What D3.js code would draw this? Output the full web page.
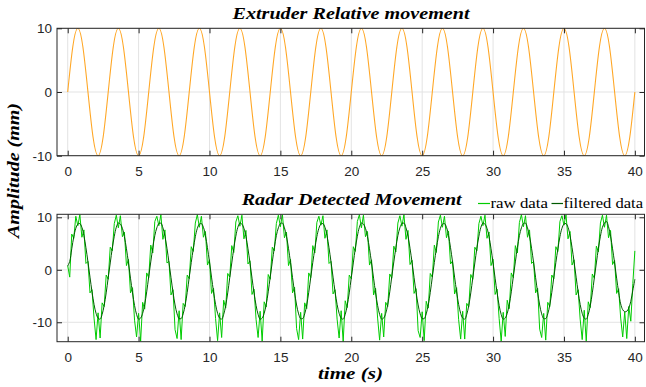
<!DOCTYPE html>
<html><head><meta charset="utf-8">
<script src="https://cdn.jsdelivr.net/npm/d3@7"></script>
<style>body{margin:0;background:#fff}svg{display:block}</style>
</head><body>
<svg id="c" width="646" height="387"></svg>
<script>
// ---------------- data ----------------
const xTicks = [0, 5, 10, 15, 20, 25, 30, 35, 40];
const yTicksTop = [-10, 0, 10];
const yTicksBottom = [-10, 0, 10];
const xLimits = [-0.755, 40.68];
const yLimitsTop = [-10, 10];
const yLimitsBottom = [-13.7, 10.57];

const topTitle = "Extruder Relative movement";
const bottomTitle = "Radar Detected Movement";
const yLabel = "Amplitude (mm)";
const xLabel = "time (s)";
const legendLabels = ["raw data", "filtered data"];

// extruder: sampled every 5/14 s
const extruderStep = 5 / 14;
const extruderValues = [
 0,7.07,10,7.07,0,-7.07,-10,-7.07, 0,7.07,10,7.07,0,-7.07,-10,-7.07,
 0,7.07,10,7.07,0,-7.07,-10,-7.07, 0,7.07,10,7.07,0,-7.07,-10,-7.07,
 0,7.07,10,7.07,0,-7.07,-10,-7.07, 0,7.07,10,7.07,0,-7.07,-10,-7.07,
 0,7.07,10,7.07,0,-7.07,-10,-7.07, 0,7.07,10,7.07,0,-7.07,-10,-7.07,
 0,7.07,10,7.07,0,-7.07,-10,-7.07, 0,7.07,10,7.07,0,-7.07,-10,-7.07,
 0,7.07,10,7.07,0,-7.07,-10,-7.07, 0,7.07,10,7.07,0,-7.07,-10,-7.07,
 0,7.07,10,7.07,0,-7.07,-10,-7.07, 0,7.07,10,7.07,0,-7.07,-10,-7.07,
 0
];

// radar: sampled every 1/7 s
const radarStep = 1 / 7;
const rawValues = [
 0.8,-1.4,6.8,6.0,10.2,8.4,10.5,6.2,7.6,1.2,1.6,-4.4,-3.8,-9.2,-13.3,-8.2,-13.0,-6.3,-7.0,-1.0,
 -1.8,4.3,3.6,8.8,10.4,8.0,10.3,6.3,7.2,0.8,2.0,-4.4,-3.4,-9.6,-12.8,-8.3,-13.6,-6.2,-7.5,-0.6,
 -1.5,4.7,3.2,9.2,10.2,8.4,10.5,5.8,7.6,1.3,1.6,-4.8,-3.8,-11.4,-13.1,-7.8,-13.3,-6.4,-7.0,-1.0,
 -1.7,4.4,3.5,8.9,10.5,8.1,10.2,6.2,7.3,0.9,1.9,-4.5,-3.5,-9.3,-13.5,-8.2,-12.9,-5.8,-7.3,-0.7,
 -1.4,4.6,3.3,9.1,10.3,8.3,10.4,5.9,7.5,1.1,1.7,-4.7,-3.7,-9.5,-12.9,-7.9,-13.6,-6.1,-7.1,-0.9,
 -1.8,4.3,3.6,8.8,10.4,8.2,10.5,6.1,7.2,0.8,2.0,-4.4,-3.3,-11.2,-13.3,-8.1,-13.2,-6.3,-7.4,-0.6,
 -1.5,4.6,3.2,9.0,10.2,8.5,10.3,6.0,7.6,1.2,1.6,-4.6,-3.8,-9.4,-13.0,-7.8,-13.7,-5.9,-7.2,-1.0,
 -1.7,4.4,3.5,9.2,10.5,8.0,10.4,6.3,7.3,0.9,1.9,-4.8,-3.5,-9.2,-13.4,-8.3,-12.8,-6.2,-7.0,-0.8,
 -1.6,4.5,3.4,8.9,10.3,8.3,10.5,5.8,7.5,1.0,1.8,-4.5,-3.6,-11.6,-12.9,-8.0,-13.5,-6.0,-7.3,-0.7,
 -1.4,4.7,3.3,9.1,10.4,8.1,10.2,6.1,7.4,1.1,1.7,-4.6,-3.4,-9.5,-13.2,-7.9,-13.2,-6.4,-7.1,-0.9,
 -1.8,4.3,3.6,8.8,10.2,8.4,10.4,6.0,7.2,0.8,2.0,-4.7,-3.7,-9.3,-13.6,-8.1,-12.7,-5.8,-7.4,-0.6,
 -1.5,4.6,3.2,9.0,10.5,8.2,10.3,6.2,7.6,1.2,1.6,-4.4,-3.5,-11.3,-12.9,-8.3,-13.4,-6.2,-7.0,-1.0,
 -1.7,4.4,3.5,9.2,10.3,8.5,10.5,5.9,7.3,0.9,1.9,-4.8,-3.8,-9.4,-13.3,-7.7,-13.6,-6.1,-7.2,-0.8,
 -1.6,4.5,3.4,8.9,10.4,8.1,10.4,6.1,7.5,1.0,1.8,-4.5,-3.6,-9.2,-12.8,-8.0,-13.1,-7.0,-9.8,-2.6,
 3.6
];
const filteredValues = [
 0.7,1.6,4.0,6.3,7.9,8.7,8.8,8.1,6.5,4.2,1.5,-1.4,-4.2,-6.6,-8.3,-9.2,-9.4,-8.5,-6.8,-4.4,
 -1.5,1.3,4.1,6.4,8.1,8.9,8.7,7.9,6.3,4.0,1.3,-1.6,-4.4,-6.8,-8.5,-9.4,-9.2,-8.3,-6.6,-4.2,
 -1.3,1.5,4.2,6.5,8.0,8.8,8.9,8.0,6.4,4.1,1.4,-1.5,-4.3,-6.7,-8.4,-9.3,-9.3,-8.4,-6.7,-4.3,
 -1.4,1.4,4.0,6.3,7.9,8.7,8.8,8.1,6.5,4.2,1.5,-1.4,-4.2,-6.6,-8.3,-9.2,-9.4,-8.5,-6.8,-4.4,
 -1.5,1.3,4.1,6.4,8.1,8.9,8.7,7.9,6.3,4.0,1.3,-1.6,-4.4,-6.8,-8.5,-9.4,-9.2,-8.3,-6.6,-4.2,
 -1.3,1.5,4.2,6.5,8.0,8.8,8.9,8.0,6.4,4.1,1.4,-1.5,-4.3,-6.7,-8.4,-9.3,-9.3,-8.4,-6.7,-4.3,
 -1.4,1.4,4.0,6.3,7.9,8.7,8.8,8.1,6.5,4.2,1.5,-1.4,-4.2,-6.6,-8.3,-9.2,-9.4,-8.5,-6.8,-4.4,
 -1.5,1.3,4.1,6.4,8.1,8.9,8.7,7.9,6.3,4.0,1.3,-1.6,-4.4,-6.8,-8.5,-9.4,-9.2,-8.3,-6.6,-4.2,
 -1.3,1.5,4.2,6.5,8.0,8.8,8.9,8.0,6.4,4.1,1.4,-1.5,-4.3,-6.7,-8.4,-9.3,-9.3,-8.4,-6.7,-4.3,
 -1.4,1.4,4.0,6.3,7.9,8.7,8.8,8.1,6.5,4.2,1.5,-1.4,-4.2,-6.6,-8.3,-9.2,-9.4,-8.5,-6.8,-4.4,
 -1.5,1.3,4.1,6.4,8.1,8.9,8.7,7.9,6.3,4.0,1.3,-1.6,-4.4,-6.8,-8.5,-9.4,-9.2,-8.3,-6.6,-4.2,
 -1.3,1.5,4.2,6.5,8.0,8.8,8.9,8.0,6.4,4.1,1.4,-1.5,-4.3,-6.7,-8.4,-9.3,-9.3,-8.4,-6.7,-4.3,
 -1.4,1.4,4.0,6.3,7.9,8.7,8.8,8.1,6.5,4.2,1.5,-1.4,-4.2,-6.6,-8.3,-9.2,-9.4,-8.5,-6.8,-4.4,
 -1.5,1.3,4.1,6.4,8.1,8.9,9.2,8.2,6.4,4.0,1.3,-1.6,-4.3,-6.5,-7.6,-8.0,-7.9,-7.3,-6.0,-3.9,
 -1.8
];

// ---------------- drawing ----------------
const svg = d3.select("#c");
svg.append("rect").attr("width", 646).attr("height", 387).attr("fill", "#fff");

const L = 57, R = 644.5;
const axisColor = "#262626";
const gridColor = "#e3e3e3";
const tickFont = "Liberation Sans, Arial, sans-serif";
const serif = "Liberation Serif, 'DejaVu Serif', serif";

function panel(top, bottom, yDomain, yTicks, id) {
  const x = d3.scaleLinear().domain(xLimits).range([L, R]);
  const y = d3.scaleLinear().domain(yDomain).range([bottom, top]);
  const g = svg.append("g");
  g.append("g").selectAll("line").data(xTicks).join("line")
    .attr("x1", d => x(d)).attr("x2", d => x(d)).attr("y1", top).attr("y2", bottom)
    .attr("stroke", gridColor).attr("stroke-width", 1);
  g.append("g").selectAll("line").data(yTicks).join("line")
    .attr("y1", d => y(d)).attr("y2", d => y(d)).attr("x1", L).attr("x2", R)
    .attr("stroke", gridColor).attr("stroke-width", 1);
  svg.append("defs").append("clipPath").attr("id", id)
    .append("rect").attr("x", L).attr("y", top).attr("width", R - L).attr("height", bottom - top);
  const plot = g.append("g").attr("clip-path", `url(#${id})`);
  const frame = svg.append("g");
  const styleAxis = sel => {
    sel.select(".domain").remove();
    sel.selectAll(".tick line").attr("stroke", axisColor);
    sel.selectAll(".tick text").attr("fill", axisColor).style("font-family", tickFont).style("font-size", "13.5px");
  };
  frame.append("g").attr("transform", `translate(0,${bottom})`)
    .call(d3.axisBottom(x).tickValues(xTicks).tickSize(-5).tickPadding(11).tickFormat(d3.format("d")))
    .call(styleAxis);
  frame.append("g").attr("transform", `translate(0,${top})`)
    .call(d3.axisTop(x).tickValues(xTicks).tickSize(-5).tickFormat(""))
    .call(styleAxis);
  frame.append("g").attr("transform", `translate(${L},0)`)
    .call(d3.axisLeft(y).tickValues(yTicks).tickSize(-5).tickPadding(5).tickFormat(d => d < 0 ? "-" + Math.abs(d) : String(d)))
    .call(styleAxis);
  frame.append("g").attr("transform", `translate(${R},0)`)
    .call(d3.axisRight(y).tickValues(yTicks).tickSize(-5).tickFormat(""))
    .call(styleAxis);
  frame.append("rect").attr("x", L).attr("y", top).attr("width", R - L).attr("height", bottom - top)
    .attr("fill", "none").attr("stroke", axisColor).attr("stroke-width", 1);
  return { x, y, plot };
}

// top panel
const p1 = panel(28.3, 155.7, yLimitsTop, yTicksTop, "clipTop");
p1.plot.append("path")
  .datum(extruderValues.map((v, i) => [i * extruderStep, v]))
  .attr("fill", "none").attr("stroke", "#ffa726").attr("stroke-width", 1.1)
  .attr("d", d3.line().x(d => p1.x(d[0])).y(d => p1.y(d[1])).curve(d3.curveNatural));

// bottom panel
const p2 = panel(214.3, 341.7, yLimitsBottom, yTicksBottom, "clipBot");
const rawColor = "#00cc00", filtColor = "#005a00";
p2.plot.append("path")
  .datum(rawValues.map((v, i) => [i * radarStep, v]))
  .attr("fill", "none").attr("stroke", rawColor).attr("stroke-width", 1)
  .attr("d", d3.line().x(d => p2.x(d[0])).y(d => p2.y(d[1])));
p2.plot.append("path")
  .datum(filteredValues.map((v, i) => [i * radarStep, v]))
  .attr("fill", "none").attr("stroke", filtColor).attr("stroke-width", 1)
  .attr("d", d3.line().x(d => p2.x(d[0])).y(d => p2.y(d[1])).curve(d3.curveCatmullRom));

function fitText(sel, width) {
  sel.attr("textLength", width).attr("lengthAdjust", "spacingAndGlyphs");
}
svg.append("text").attr("x", 351).attr("y", 18.5).attr("text-anchor", "middle")
  .style("font-family", serif).style("font-weight", "bold").style("font-style", "italic").style("font-size", "16px")
  .attr("fill", "#000").text(topTitle).call(fitText, 237);
svg.append("text").attr("x", 351.7).attr("y", 205).attr("text-anchor", "middle")
  .style("font-family", serif).style("font-weight", "bold").style("font-style", "italic").style("font-size", "16px")
  .attr("fill", "#000").text(bottomTitle).call(fitText, 220);

svg.append("text").attr("transform", "translate(19,170.5) rotate(-90)").attr("text-anchor", "middle")
  .style("font-family", serif).style("font-weight", "bold").style("font-style", "italic").style("font-size", "16px")
  .attr("fill", "#000").text(yLabel).call(fitText, 135);
svg.append("text").attr("x", 350.5).attr("y", 379).attr("text-anchor", "middle")
  .style("font-family", serif).style("font-weight", "bold").style("font-style", "italic").style("font-size", "16px")
  .attr("fill", "#000").text(xLabel).call(fitText, 65);

const leg = svg.append("g");
const legItems = [
  { label: legendLabels[0], color: rawColor, x0: 478, x1: 490, tx: 490.5, tw: 57.5 },
  { label: legendLabels[1], color: filtColor, x0: 551.5, x1: 563, tx: 563.5, tw: 79.5 }
];
legItems.forEach(it => {
  leg.append("line").attr("x1", it.x0).attr("x2", it.x1).attr("y1", 203.5).attr("y2", 203.5)
    .attr("stroke", it.color).attr("stroke-width", 1.2);
  leg.append("text").attr("x", it.tx).attr("y", 207.5)
    .style("font-family", serif).style("font-size", "15px").attr("fill", "#000")
    .text(it.label).call(fitText, it.tw);
});
</script>
</body></html>
